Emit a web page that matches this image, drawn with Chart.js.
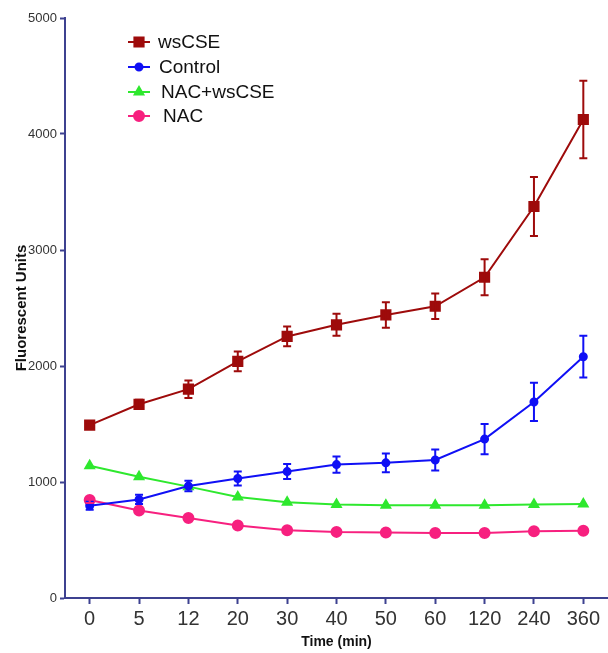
<!DOCTYPE html>
<html lang="en">
<head>
    <meta charset="UTF-8">
    <title>Fluorescent Units over Time</title>
    <script src="https://cdn.jsdelivr.net/npm/chart.js"></script>
    <style>
        html, body { margin: 0; padding: 0; background: #fff; overflow: hidden; }
        #wrap { width: 608px; height: 653px; }
        canvas { display: block; }
    </style>
</head>
<body>
    <div id="wrap"><canvas id="fluoChart" width="608" height="653"></canvas></div>

    <script>
        // Data
        const timeLabels = ['0', '5', '12', '20', '30', '40', '50', '60', '120', '240', '360'];
        const wsCSE      = [1490, 1670, 1800, 2040, 2255, 2355, 2440, 2515, 2765, 3375, 4125];
        const wsCSEErr   = [25, 40, 75, 85, 85, 95, 110, 110, 155, 255, 335];
        const control    = [795, 850, 965, 1030, 1090, 1150, 1165, 1190, 1370, 1690, 2080];
        const controlErr = [35, 40, 45, 60, 65, 70, 80, 90, 130, 165, 180];
        const nacWsCSE   = [1140, 1045, 960, 870, 825, 805, 800, 800, 800, 805, 810];
        const nacWsCSEErr = [0, 0, 0, 0, 0, 0, 0, 0, 0, 0, 0];
        const nac        = [845, 755, 690, 625, 585, 570, 565, 560, 560, 575, 580];
        const nacErr     = [25, 0, 0, 0, 0, 0, 0, 0, 0, 0, 0];
        const yTicks     = [0, 1000, 2000, 3000, 4000, 5000];

        const axisColor = '#3d4190';
        const textColor = '#333333';
        const fontFamily = '"Liberation Sans", Arial, sans-serif';

        // error bars drawn from the y scale
        const errorBars = {
            id: 'errorBars',
            afterDatasetsDraw(chart) {
                const ctx = chart.ctx;
                const yScale = chart.scales.y;
                chart.data.datasets.forEach((ds, i) => {
                    if (!ds.errors) return;
                    const meta = chart.getDatasetMeta(i);
                    ctx.save();
                    ctx.strokeStyle = ds.borderColor;
                    ctx.lineWidth = 2;
                    meta.data.forEach((pt, j) => {
                        const e = ds.errors[j];
                        if (!e) return;
                        const top = yScale.getPixelForValue(ds.data[j] + e);
                        const bot = yScale.getPixelForValue(ds.data[j] - e);
                        ctx.beginPath();
                        ctx.moveTo(pt.x, top);
                        ctx.lineTo(pt.x, bot);
                        ctx.moveTo(pt.x - 4, top);
                        ctx.lineTo(pt.x + 4, top);
                        ctx.moveTo(pt.x - 4, bot);
                        ctx.lineTo(pt.x + 4, bot);
                        ctx.stroke();
                    });
                    ctx.restore();
                });
            }
        };

        // legend inside the plot, top left
        const insideLegend = {
            id: 'insideLegend',
            afterDraw(chart) {
                const ctx = chart.ctx;
                const rows = [
                    { y: 42, tx: 158 },
                    { y: 67, tx: 159 },
                    { y: 92, tx: 161 },
                    { y: 116, tx: 163 }
                ];
                chart.data.datasets.forEach((ds, i) => {
                    const r = rows[i];
                    ctx.save();
                    ctx.strokeStyle = ds.borderColor;
                    ctx.fillStyle = ds.backgroundColor;
                    ctx.lineWidth = 2;
                    ctx.beginPath();
                    ctx.moveTo(128, r.y);
                    ctx.lineTo(150, r.y);
                    ctx.stroke();
                    Chart.helpers.drawPoint(ctx, {
                        pointStyle: ds.pointStyle,
                        radius: ds.pointRadius,
                        rotation: 0,
                        borderWidth: 1
                    }, 139, r.y);
                    ctx.fillStyle = '#111';
                    ctx.font = '19px ' + fontFamily;
                    ctx.textBaseline = 'middle';
                    ctx.fillText(ds.label, r.tx, r.y + 1);
                    ctx.restore();
                });
            }
        };

        function series(label, data, errors, color, style, radius) {
            return {
                label: label,
                data: data,
                errors: errors,
                borderColor: color,
                backgroundColor: color,
                pointBackgroundColor: color,
                pointBorderColor: color,
                pointStyle: style,
                pointRadius: radius,
                pointHoverRadius: radius,
                borderWidth: 2,
                tension: 0,
                fill: false
            };
        }

        const config = {
            type: 'line',
            data: {
                labels: timeLabels,
                datasets: [
                    series('wsCSE', wsCSE, wsCSEErr, '#9e0b0b', 'rect', 6.5),
                    series('Control', control, controlErr, '#1010f5', 'circle', 3.5),
                    series('NAC+wsCSE', nacWsCSE, nacWsCSEErr, '#2ee82e', 'triangle', 5),
                    series('NAC', nac, nacErr, '#f7207f', 'circle', 5)
                ]
            },
            options: {
                responsive: false,
                animation: false,
                layout: {
                    autoPadding: false,
                    padding: { top: 18, right: 0, left: 0, bottom: 0 }
                },
                plugins: {
                    legend: { display: false },
                    tooltip: { enabled: false }
                },
                scales: {
                    x: {
                        type: 'category',
                        offset: true,
                        grid: {
                            offset: false,
                            drawOnChartArea: false,
                            drawTicks: true,
                            tickLength: 6,
                            tickWidth: 2,
                            color: axisColor
                        },
                        border: { color: axisColor, width: 2 },
                        ticks: {
                            color: textColor,
                            padding: 3,
                            font: { family: fontFamily, size: 20 }
                        },
                        title: {
                            display: true,
                            text: 'Time (min)',
                            color: '#111',
                            padding: { top: 0, bottom: 2 },
                            font: { family: fontFamily, size: 14, weight: 'bold' }
                        },
                        afterFit(scale) {
                            scale.height = 55;
                            scale.paddingLeft = 0;
                            scale.paddingRight = 0;
                        }
                    },
                    y: {
                        min: 0,
                        max: 5000,
                        afterBuildTicks(scale) {
                            scale.ticks = yTicks.map(v => ({ value: v }));
                        },
                        grid: {
                            drawOnChartArea: false,
                            drawTicks: true,
                            tickLength: 5,
                            tickWidth: 2,
                            color: axisColor
                        },
                        border: { color: axisColor, width: 2 },
                        ticks: {
                            color: textColor,
                            padding: 3,
                            callback: (v) => String(v),
                            font: { family: fontFamily, size: 13 }
                        },
                        title: {
                            display: true,
                            text: 'Fluorescent Units',
                            color: '#111',
                            padding: { top: 13, bottom: 0 },
                            font: { family: fontFamily, size: 15, weight: 'bold' }
                        },
                        afterFit(scale) { scale.width = 65; }
                    }
                }
            },
            plugins: [errorBars, insideLegend]
        };

        const ctx = document.getElementById('fluoChart').getContext('2d');
        const fluoChart = new Chart(ctx, config);
    </script>
</body>
</html>
